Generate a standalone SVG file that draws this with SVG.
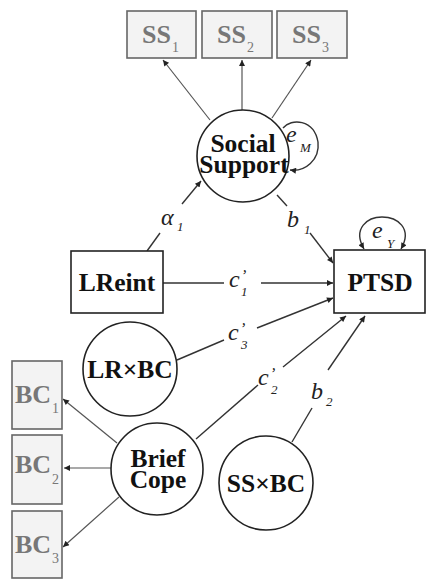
<svg xmlns="http://www.w3.org/2000/svg" width="426" height="580" viewBox="0 0 426 580">
<style>
.bg{fill:#fff}
.node{fill:#fff;stroke:#222;stroke-width:1.6}
.ind{fill:#f3f3f3;stroke:#666;stroke-width:1.6}
text{font-family:"Liberation Serif","DejaVu Serif","Times New Roman",serif}
.nt{font-weight:bold;font-size:25.5px;fill:#111;text-anchor:middle}
.it{font-weight:bold;font-size:26px;fill:#777}
.sub{font-size:14px;font-weight:normal}
.lab{font-style:italic;font-size:24px;fill:#222}
.ls{font-size:13px}
.pr{font-size:16px}
.c{fill:none;stroke:#333;stroke-width:1.4}
.g{fill:none;stroke:#555;stroke-width:1.2}
</style>
<defs>
<marker id="ah" viewBox="0 0 10 10" refX="10" refY="5" markerWidth="8" markerHeight="6" markerUnits="userSpaceOnUse" orient="auto-start-reverse">
<path d="M0,0 L10,5 L0,10 z" fill="#222"/>
</marker>
</defs>
<rect class="bg" x="0" y="0" width="426" height="580"/>
<g id="connectors">
<line class="g" x1="210" y1="120" x2="163" y2="60" marker-end="url(#ah)"/>
<line class="g" x1="242" y1="110" x2="242" y2="60" marker-end="url(#ah)"/>
<line class="g" x1="272" y1="118" x2="311" y2="60" marker-end="url(#ah)"/>
<line class="g" x1="117" y1="443" x2="63" y2="399" marker-end="url(#ah)"/>
<line class="g" x1="111" y1="468" x2="64" y2="468" marker-end="url(#ah)"/>
<line class="g" x1="119" y1="497" x2="63" y2="547" marker-end="url(#ah)"/>
<line class="c" x1="147" y1="251" x2="160" y2="233"/>
<line class="c" x1="182" y1="204" x2="201" y2="181" marker-end="url(#ah)"/>
<line class="c" x1="277" y1="195" x2="287" y2="206"/>
<line class="c" x1="310" y1="233" x2="333" y2="263" marker-end="url(#ah)"/>
<line class="c" x1="163" y1="283" x2="224" y2="283"/>
<line class="c" x1="261" y1="283" x2="333" y2="283" marker-end="url(#ah)"/>
<line class="c" x1="177" y1="360" x2="224" y2="340"/>
<line class="c" x1="257" y1="328" x2="333" y2="298" marker-end="url(#ah)"/>
<line class="c" x1="196" y1="439" x2="258" y2="385"/>
<line class="c" x1="283" y1="367" x2="346" y2="316" marker-end="url(#ah)"/>
<line class="c" x1="292" y1="442" x2="312" y2="408"/>
<line class="c" x1="328" y1="370" x2="365" y2="316" marker-end="url(#ah)"/>
<path class="c" d="M283,128 C291,118 314,119 318,142 C320,160 305,172 290,170" marker-end="url(#ah)"/>
<path class="c" d="M364,249 C352,228 368,217 382,217 C397,217 413,228 401,249" marker-start="url(#ah)" marker-end="url(#ah)"/>
</g>
<g id="labels">
<text class="lab" x="161" y="225">α<tspan class="ls" x="177" y="231">1</tspan></text>
<text class="lab" x="287" y="227">b<tspan class="ls" x="304" y="234">1</tspan></text>
<text class="lab" x="229" y="287">c<tspan class="pr" x="241" y="281">’</tspan><tspan class="ls" x="241" y="296">1</tspan></text>
<text class="lab" x="228" y="340">c<tspan class="pr" x="240" y="334">’</tspan><tspan class="ls" x="241" y="349">3</tspan></text>
<text class="lab" x="258" y="385">c<tspan class="pr" x="270" y="379">’</tspan><tspan class="ls" x="271" y="394">2</tspan></text>
<text class="lab" x="311" y="399">b<tspan class="ls" x="326" y="406">2</tspan></text>
<text class="lab" x="286" y="142">e<tspan class="ls" font-size="12" x="300" y="152">M</tspan></text>
<text class="lab" x="372" y="238">e<tspan class="ls" font-size="12" x="387" y="248">Y</tspan></text>
</g>
<g id="SS1"><rect class="ind" x="127" y="11" width="69" height="47"/><text class="it" x="142" y="43">SS<tspan class="sub" x="172" y="52">1</tspan></text></g>
<g id="SS2"><rect class="ind" x="202" y="11" width="70" height="47"/><text class="it" x="217" y="43">SS<tspan class="sub" x="247" y="52">2</tspan></text></g>
<g id="SS3"><rect class="ind" x="277" y="11" width="70" height="47"/><text class="it" x="292" y="43">SS<tspan class="sub" x="322" y="52">3</tspan></text></g>
<g id="BC1"><rect class="ind" x="12" y="361" width="50" height="68"/><text class="it" x="15" y="403">BC<tspan class="sub" x="52" y="413">1</tspan></text></g>
<g id="BC2"><rect class="ind" x="12" y="435" width="50" height="69"/><text class="it" x="15" y="473">BC<tspan class="sub" x="52" y="484">2</tspan></text></g>
<g id="BC3"><rect class="ind" x="12" y="511" width="50" height="67"/><text class="it" x="15" y="553">BC<tspan class="sub" x="52" y="563">3</tspan></text></g>
<g id="SocialSupport"><circle class="node" cx="243" cy="156" r="46"/><text class="nt" font-size="23"><tspan x="243" y="152">Social</tspan><tspan x="244" y="173">Support</tspan></text></g>
<g id="LReint"><rect class="node" x="71" y="251" width="92" height="62"/><text class="nt" x="117" y="291">LReint</text></g>
<g id="PTSD"><rect class="node" x="334" y="250" width="91" height="63"/><text class="nt" x="380" y="291">PTSD</text></g>
<g id="LRxBC"><circle class="node" cx="130" cy="369" r="47"/><text class="nt" x="130" y="378">LR×BC</text></g>
<g id="BriefCope"><circle class="node" cx="157" cy="469" r="46"/><text class="nt"><tspan x="158" y="467">Brief</tspan><tspan x="158" y="488">Cope</tspan></text></g>
<g id="SSxBC"><circle class="node" cx="266" cy="483" r="47"/><text class="nt" x="266" y="492">SS×BC</text></g>
</svg>
